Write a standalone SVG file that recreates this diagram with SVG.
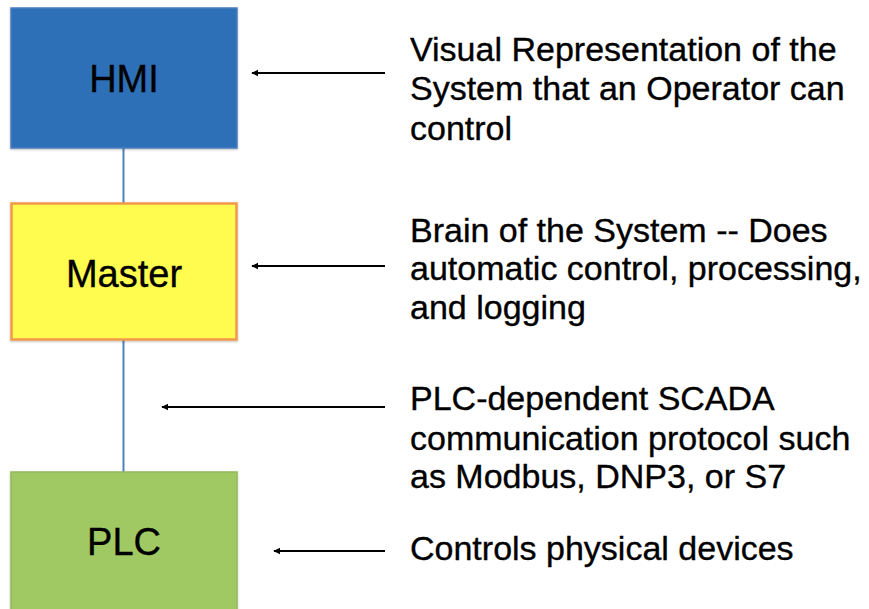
<svg xmlns="http://www.w3.org/2000/svg" width="869" height="609" viewBox="0 0 869 609">
  <style>
    .box-label { font-family: "Liberation Sans", Arial, sans-serif; font-size: 38px; fill: #000; stroke: #000; stroke-width: 0.35; text-anchor: middle; }
    .note { font-family: "Liberation Sans", Arial, sans-serif; font-size: 34px; fill: #000; stroke: #000; stroke-width: 0.35; }
    .link { stroke: #4F81BD; stroke-width: 2; fill: none; }
    .pointer { stroke: #000; stroke-width: 2.2; fill: none; marker-end: url(#head); }
  </style>
  <defs>
    <marker id="head" viewBox="0 0 10 10" refX="9" refY="5" markerWidth="3.2" markerHeight="3.2" orient="auto" markerUnits="strokeWidth">
      <path d="M0,0 L10,5 L0,10 Z" fill="#000"/>
    </marker>
    <filter id="shadow" x="-5%" y="-5%" width="110%" height="110%">
      <feDropShadow dx="0" dy="1" stdDeviation="1.2" flood-color="#000" flood-opacity="0.25"/>
    </filter>
  </defs>
  <rect width="869" height="609" fill="#fff"/>

  <!-- connectors -->
  <g id="connectors">
    <line class="link" x1="123.5" y1="148" x2="123.5" y2="203"/>
    <line class="link" x1="123.5" y1="340" x2="123.5" y2="472"/>
    <line class="pointer" x1="385" y1="73" x2="252" y2="73"/>
    <line class="pointer" x1="385" y1="266" x2="252" y2="266"/>
    <line class="pointer" x1="385" y1="407" x2="162" y2="407"/>
    <line class="pointer" x1="385" y1="551" x2="274" y2="551"/>
  </g>

  <!-- stack of system layers -->
  <g id="hmi">
    <rect x="11" y="8" width="226" height="140" fill="#2E6FB8" stroke="#4A7EBC" stroke-width="1.5" filter="url(#shadow)"/>
    <text class="box-label" x="124" y="92">HMI</text>
  </g>
  <g id="master">
    <rect x="11.5" y="203.5" width="225" height="136" fill="#FFFB50" stroke="#F29A4A" stroke-width="2.5" filter="url(#shadow)"/>
    <text class="box-label" x="124" y="287">Master</text>
  </g>
  <g id="plc">
    <rect x="11" y="472" width="226" height="150" fill="#A0C964" stroke="#93B85C" stroke-width="1.5" filter="url(#shadow)"/>
    <text class="box-label" x="124" y="555">PLC</text>
  </g>

  <!-- descriptions -->
  <g id="hmi-note">
    <text class="note" x="410" y="61">Visual Representation of the</text>
    <text class="note" x="410" y="100">System that an Operator can</text>
    <text class="note" x="410" y="140">control</text>
  </g>
  <g id="master-note">
    <text class="note" x="410" y="242">Brain of the System -- Does</text>
    <text class="note" x="410" y="280">automatic control, processing,</text>
    <text class="note" x="410" y="319">and logging</text>
  </g>
  <g id="protocol-note">
    <text class="note" x="410" y="410">PLC-dependent SCADA</text>
    <text class="note" x="410" y="450">communication protocol such</text>
    <text class="note" x="410" y="488">as Modbus, DNP3, or S7</text>
  </g>
  <g id="plc-note">
    <text class="note" x="410" y="560">Controls physical devices</text>
  </g>
</svg>
